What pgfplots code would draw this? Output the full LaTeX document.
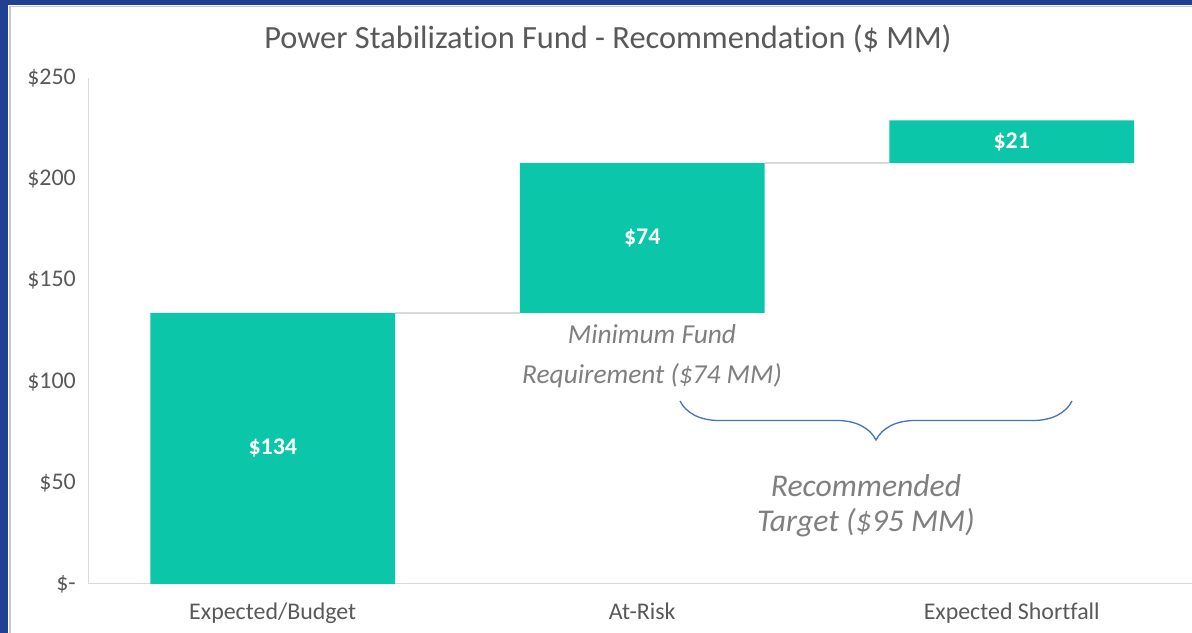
\documentclass[border=0pt]{standalone}
\usepackage{pgfplots}
\pgfplotsset{compat=1.18}
\usepackage{pgfplotstable}
\usepackage{fontspec}
\setmainfont{Carlito}[Ligatures=NoCommon]
\usetikzlibrary{decorations.pathreplacing}
\definecolor{barteal}{HTML}{0BC6A8}
\definecolor{txtgray}{HTML}{595959}
\definecolor{anngray}{HTML}{7F7F7F}
\definecolor{axisgray}{HTML}{D9D9D9}
\definecolor{bracecol}{HTML}{4472C4}
\definecolor{bordblue}{HTML}{214091}
\definecolor{bordgray}{HTML}{C8C8C8}

\pgfplotstableread{
x base h lbl
0 0 134 134
1 134 74 74
2 208 21 21
}\wfdata

\begin{document}
\begin{tikzpicture}
\path[use as bounding box] (0,0) rectangle (1192bp,633bp);
\clip (0,0) rectangle (1192bp,633bp);
\fill[white] (0,0) rectangle (1192bp,633bp);

% connector lines
\begin{axis}[at={(88bp,49bp)}, anchor=south west, scale only axis,
  width=1108.5bp, height=506bp,
  xmin=-0.5, xmax=2.5, ymin=0, ymax=250, hide axis]
\addplot[draw=axisgray, line width=1.5bp, mark=none] coordinates {(0.3315,134) (0.6685,134)};
\addplot[draw=axisgray, line width=1.5bp, mark=none] coordinates {(1.3315,208) (1.6685,208)};
\end{axis}

% bars
\begin{axis}[at={(88bp,49bp)}, anchor=south west, scale only axis,
  width=1108.5bp, height=506bp,
  xmin=-0.5, xmax=2.5, ymin=0, ymax=250,
  ybar stacked, bar width=0.663,
  axis x line*=bottom, axis y line*=left,
  axis line style={draw=axisgray, line width=1bp, -},
  xtick={0,1,2}, xticklabels={Expected/Budget,At-Risk,Expected Shortfall},
  ytick={0,50,100,150,200,250},
  yticklabels={\$-,\$50,\$100,\$150,\$200,\$250},
  major tick length=0pt,
  tick label style={font=\fontsize{24}{28}\selectfont, text=txtgray, inner sep=0pt},
  xticklabel style={anchor=base, yshift=-36bp},
  yticklabel style={anchor=east, xshift=-12bp},
  clip=false]
\addplot[draw=none, fill=none] table[x=x, y=base] {\wfdata};
\addplot[draw=none, fill=barteal,
  point meta=explicit symbolic,
  nodes near coords={\$\pgfplotspointmeta},
  every node near coord/.append style={anchor=center, text=white,
     font=\fontsize{24}{28}\selectfont\bfseries}]
  table[x=x, y=h, meta=lbl] {\wfdata};
\end{axis}

% title
\node[anchor=base, font=\fontsize{32.5}{38}\selectfont, text=txtgray]
  at (608bp,584.7bp) {Power Stabilization Fund - Recommendation (\$ MM)};

% annotations
\node[anchor=base, font=\fontsize{27.5}{32}\selectfont\itshape, text=anngray]
  at (652bp,289bp) {Minimum Fund};
\node[anchor=base, font=\fontsize{27.5}{32}\selectfont\itshape, text=anngray]
  at (652bp,249bp) {Requirement (\$74 MM)};
\node[anchor=base, font=\fontsize{31.8}{36}\selectfont\itshape, text=anngray]
  at (866bp,136bp) {Recommended};
\node[anchor=base, font=\fontsize{31.8}{36}\selectfont\itshape, text=anngray]
  at (866bp,101bp) {Target (\$95 MM)};

\draw[bracecol, line width=1.3bp, decorate, decoration={brace, amplitude=39bp, aspect=0.5}]
  (1072bp,232bp) -- (680bp,232bp);

% frame
\fill[bordblue] (0,0) rectangle (8.3bp,633bp);
\fill[bordblue] (0,627.5bp) rectangle (1192bp,633bp);
\draw[bordgray, line width=1.5bp] (9.8bp,0) -- (9.8bp,627bp);
\draw[bordgray, line width=1bp] (9bp,626.5bp) -- (1192bp,626.5bp);
\end{tikzpicture}
\end{document}
